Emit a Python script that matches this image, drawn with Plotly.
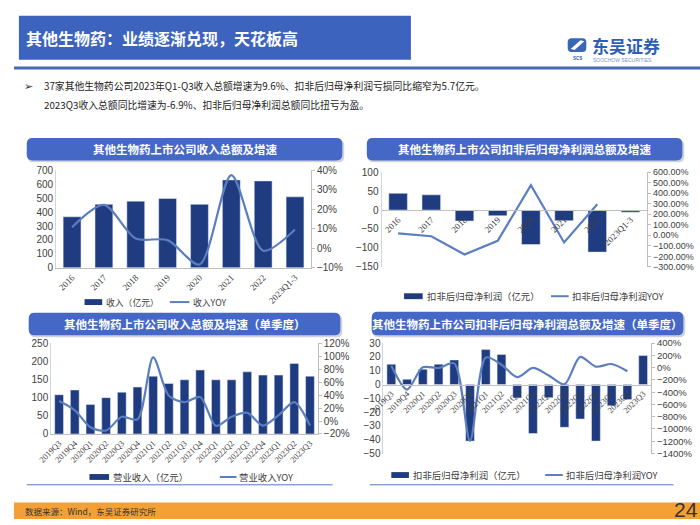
import plotly.graph_objects as go

W, H = 700, 525


def X(p):
    return p / W


def Y(p):
    return 1 - p / H


# ---------------- data ----------------
annual_cats = ["2016", "2017", "2018", "2019", "2020", "2021", "2022", "2023Q1-3"]
annual_revenue = [366, 455, 478, 497, 455, 630, 623, 509]
annual_revenue_yoy = [10.8, 22.2, 5.0, 4.2, -8.3, 37.5, -1.2, 9.6]
annual_profit = [44, 40, -29, -15, -91, -28, -111, -5.7]
annual_profit_yoy = [18.6, -9, -183, -53, 475, -68, 295, None]

quarter_cats = ["2019Q3", "2019Q4", "2020Q1", "2020Q2", "2020Q3", "2020Q4",
                "2021Q1", "2021Q2", "2021Q3", "2021Q4", "2022Q1", "2022Q2",
                "2022Q3", "2022Q4", "2023Q1", "2023Q2", "2023Q3"]
quarter_revenue = [108, 121, 81, 100, 115, 129, 159, 139, 149, 176, 149, 149,
                   171, 162, 162, 194, 159]
quarter_revenue_yoy = [30.7, 16.6, -9.6, -14.6, 6.5, 2.5, 98, 39, 29, 37, -7.5,
                       6.5, 12.6, -7, 9, 29, -6.9]
quarter_profit = [14.7, 3.8, 11.1, 14.7, 17.8, -41, 25.3, 21.8, -9.7, -35.5,
                  -9.5, -31, -25, -41, -15.4, -10.9, 21]
quarter_profit_yoy = [32, -357, 5, -5, 69, -1193, 165, 48, -154, -5, -128,
                      -272, 176, 16, 59, -59, None]

title_text = "其他生物药：业绩逐渐兑现，天花板高"
bullet_lines = [
    "37家其他生物药公司2023年Q1-Q3收入总额增速为9.6%、扣非后归母净利润亏损同比缩窄为5.7亿元。",
    "2023Q3收入总额同比增速为-6.9%、扣非后归母净利润总额同比扭亏为盈。",
]
panel_titles = [
    "其他生物药上市公司收入总额及增速",
    "其他生物药上市公司扣非后归母净利润总额及增速",
    "其他生物药上市公司收入总额及增速（单季度）",
    "其他生物药上市公司扣非后归母净利润总额及增速（单季度）",
]
legend_names = [
    ("收入（亿元）", "收入YOY"),
    ("扣非后归母净利润（亿元）", "扣非后归母净利润YOY"),
    ("营业收入（亿元）", "营业收入YOY"),
    ("扣非后归母净利润（亿元）", "扣非后归母净利润YOY"),
]
source_text = "数据来源：Wind，东吴证券研究所"
page_no = "24"

# ---------------- styles ----------------
BAR = "#203C80"
LINE = "#5B7EC0"
AX = "#BFBFBF"
TXT = "#404040"
SANS = "Noto Sans CJK SC"
SERIF = "Liberation Serif"

fig = go.Figure()

panels = [
    (annual_cats, annual_revenue, annual_revenue_yoy, "x", "y", "y2", "spline"),
    (annual_cats, annual_profit, annual_profit_yoy, "x2", "y3", "y4", "linear"),
    (quarter_cats, quarter_revenue, quarter_revenue_yoy, "x3", "y5", "y6", "spline"),
    (quarter_cats, quarter_profit, quarter_profit_yoy, "x4", "y7", "y8", "spline"),
]
for i, (cats, bars, yoy, xa, ya, yb, shp) in enumerate(panels):
    fig.add_trace(go.Bar(x=cats, y=bars, name=legend_names[i][0], marker_color=BAR,
                         xaxis=xa, yaxis=ya, showlegend=False))
    fig.add_trace(go.Scatter(x=cats, y=yoy, name=legend_names[i][1], mode="lines",
                             line=dict(color=LINE, width=2.2, shape=shp, smoothing=0.8),
                             connectgaps=False, xaxis=xa, yaxis=yb, showlegend=False))

# plot-area pixel boxes: (left, right, top, bottom)
boxes = [(43, 303, 168, 268), (375, 646, 170, 267), (38, 310, 345, 438), (377, 650, 345, 458)]
left_ranges = [[0, 700], [-150, 100], [0, 250], [-50, 30]]
left_dticks = [100, 50, 50, 10]
right_ranges = [[-10, 40], [-300, 600], [-20, 120], [-1400, 400]]
right_dticks = [10, 100, 20, 200]
right_formats = ["d", ".2f", "d", "d"]
right_sizes = [10, 9, 10, 9.5]

lay = {}
for i in range(4):
    l, r, t, b = boxes[i]
    xd = [X(l), X(r)]
    yd = [Y(b), Y(t)]
    xn = "xaxis" if i == 0 else f"xaxis{i + 1}"
    yn1 = "yaxis" if i == 0 else f"yaxis{2 * i + 1}"
    yn2 = f"yaxis{2 * i + 2}"
    xref = "x" if i == 0 else f"x{i + 1}"
    y1ref = "y" if i == 0 else f"y{2 * i + 1}"
    lo, hi = left_ranges[i]
    xax = dict(domain=xd, type="category", showline=True, linecolor=AX, linewidth=1,
               ticks="", tickangle=-45, showgrid=False, zeroline=False,
               tickfont=dict(family=SERIF, size=9 if i < 2 else 8.5, color=TXT))
    if lo < 0:
        frac = (0 - lo) / (hi - lo)
        xax.update(anchor="free", position=yd[0] + frac * (yd[1] - yd[0]))
    else:
        xax.update(anchor=y1ref)
    lay[xn] = xax
    lay[yn1] = dict(domain=yd, anchor=xref, range=left_ranges[i], dtick=left_dticks[i],
                    showgrid=False, zeroline=False, showline=True, linecolor="#D5D5D5",
                    ticks="", tickfont=dict(family="Liberation Sans", size=10, color=TXT))
    lay[yn2] = dict(overlaying=y1ref, anchor=xref, side="right", range=right_ranges[i],
                    dtick=right_dticks[i], tickformat=right_formats[i], ticksuffix="%",
                    showgrid=False, zeroline=False, showline=True, linecolor=AX,
                    ticks="outside", ticklen=3, tickcolor=AX,
                    tickfont=dict(family="Liberation Sans", size=right_sizes[i], color=TXT))


def rrect(x0, y0, x1, y1, r):
    return (f"M {X(x0 + r)},{Y(y0)} L {X(x1 - r)},{Y(y0)} Q {X(x1)},{Y(y0)} {X(x1)},{Y(y0 + r)} "
            f"L {X(x1)},{Y(y1 - r)} Q {X(x1)},{Y(y1)} {X(x1 - r)},{Y(y1)} "
            f"L {X(x0 + r)},{Y(y1)} Q {X(x0)},{Y(y1)} {X(x0)},{Y(y1 - r)} "
            f"L {X(x0)},{Y(y0 + r)} Q {X(x0)},{Y(y0)} {X(x0 + r)},{Y(y0)} Z")


shapes = []
anns = []

shapes.append(dict(type="rect", xref="paper", yref="paper", x0=X(5), x1=X(405), y0=Y(55), y1=Y(10),
                   fillcolor="#3C63BE", line_width=0, layer="below"))
shapes.append(dict(type="line", xref="paper", yref="paper", x0=0, x1=1, y0=Y(63.5), y1=Y(63.5),
                   line=dict(color="#4A69B0", width=3)))
# logo icon
shapes.append(dict(type="path", xref="paper", yref="paper",
                   path=rrect(565, 33, 584, 47, 4), fillcolor="#3A66B8", line_width=0))
shapes.append(dict(type="path", xref="paper", yref="paper",
                   path=f"M {X(568)},{Y(44)} L {X(578)},{Y(35)} L {X(582)},{Y(36)} L {X(572)},{Y(45)} Z",
                   fillcolor="white", line_width=0))
header_boxes = [(13, 135, 335, 158), (360, 135, 682, 158), (15, 314, 333, 337), (365, 313, 683, 337)]
for (x0, y0, x1, y1) in header_boxes:
    shapes.append(dict(type="path", xref="paper", yref="paper", path=rrect(x0 + 1, y0 + 2, x1 + 2, y1 + 2, 6),
                       fillcolor="rgba(120,130,150,0.35)", line_width=0, layer="below"))
    shapes.append(dict(type="path", xref="paper", yref="paper", path=rrect(x0, y0, x1, y1, 6),
                       fillcolor="#4568C6", line_width=0, layer="below"))
for (x0, x1) in [(13, 325), (363, 673)]:
    shapes.append(dict(type="line", xref="paper", yref="paper", x0=X(x0), x1=X(x1), y0=Y(490), y1=Y(490),
                       line=dict(color="#5A78B8", width=1)))
shapes.append(dict(type="rect", xref="paper", yref="paper", x0=0, x1=1, y0=0, y1=Y(508),
                   fillcolor="#F4A035", line_width=0, layer="below"))

# legends (drawn as keys + text): (y, bar key x0, x1, bar text x, line key x0, x1, line text x, size)
legend_layout = [
    (303, 72, 90, 92, 159, 179, 181, 8.8),
    (297, 398, 417, 419, 548, 566, 567, 9.4),
    (482, 77, 97, 99, 210, 227, 228, 9.4),
    (480, 385, 403, 405, 542, 560, 561, 9.4),
]
for i, (ly, bx0, bx1, btx, lx0, lx1, ltx, fs) in enumerate(legend_layout):
    shapes.append(dict(type="rect", xref="paper", yref="paper", x0=X(bx0), x1=X(bx1),
                       y0=Y(ly + 3), y1=Y(ly - 3), fillcolor=BAR, line_width=0))
    shapes.append(dict(type="line", xref="paper", yref="paper", x0=X(lx0), x1=X(lx1),
                       y0=Y(ly), y1=Y(ly), line=dict(color=LINE, width=2)))
    anns.append(dict(text=legend_names[i][0], x=X(btx), y=Y(ly), xref="paper", yref="paper",
                     xanchor="left", yanchor="middle", showarrow=False,
                     font=dict(family=SANS, size=fs, color=TXT)))
    anns.append(dict(text=legend_names[i][1], x=X(ltx), y=Y(ly), xref="paper", yref="paper",
                     xanchor="left", yanchor="middle", showarrow=False,
                     font=dict(family=SANS, size=fs, color=TXT)))

anns.append(dict(text=f"<b>{title_text}</b>", x=X(10), y=Y(33), xref="paper", yref="paper",
                 xanchor="left", yanchor="middle", showarrow=False,
                 font=dict(family=SANS, size=16, color="white")))
anns.append(dict(text="<b>东吴证券</b>", x=X(588), y=Y(40.5), xref="paper", yref="paper",
                 xanchor="left", yanchor="middle", showarrow=False,
                 font=dict(family=SANS, size=17, color="#2F5FB3")))
anns.append(dict(text="SOOCHOW SECURITIES", x=X(589), y=Y(55.5), xref="paper", yref="paper",
                 xanchor="left", yanchor="middle", showarrow=False,
                 font=dict(family="Liberation Sans", size=5, color="#7A93C8")))
anns.append(dict(text="<b>SCS</b>", x=X(574.5), y=Y(54), xref="paper", yref="paper",
                 xanchor="center", yanchor="middle", showarrow=False,
                 font=dict(family="Liberation Sans", size=4.5, color="#2F5FB3")))
anns.append(dict(text="➢", x=X(8), y=Y(82), xref="paper", yref="paper",
                 xanchor="left", yanchor="middle", showarrow=False,
                 font=dict(family="DejaVu Sans", size=11, color="#333333")))
for k, ln in enumerate(bullet_lines):
    anns.append(dict(text=ln, x=X(29), y=Y(82 + 19.5 * k), xref="paper", yref="paper",
                     xanchor="left", yanchor="middle", showarrow=False,
                     font=dict(family=SANS, size=9.8, color="#222222")))
for (x0, y0, x1, y1), t in zip(header_boxes, panel_titles):
    anns.append(dict(text=f"<b>{t}</b>", x=X((x0 + x1) / 2), y=Y((y0 + y1) / 2), xref="paper", yref="paper",
                     xanchor="center", yanchor="middle", showarrow=False,
                     font=dict(family=SANS, size=11.5, color="white")))
anns.append(dict(text=source_text, x=X(9), y=Y(517), xref="paper", yref="paper",
                 xanchor="left", yanchor="middle", showarrow=False,
                 font=dict(family=SANS, size=8.5, color="#333333")))
anns.append(dict(text=page_no, x=X(686), y=Y(515), xref="paper", yref="paper",
                 xanchor="center", yanchor="middle", showarrow=False,
                 font=dict(family="Liberation Sans Narrow, Liberation Sans", size=21, color="#333333")))

fig.update_layout(
    width=W, height=H, autosize=False,
    margin=dict(l=0, r=0, t=0, b=0, pad=0),
    paper_bgcolor="white", plot_bgcolor="rgba(0,0,0,0)",
    barmode="group", bargap=0.44, showlegend=False,
    shapes=shapes, annotations=anns,
    font=dict(family=SANS, color=TXT),
    **lay,
)

fig.write_html("out.html",
               config={"displayModeBar": False},
               post_script="document.body.style.margin='0px';document.body.style.padding='0px';"
                           "document.body.style.overflow='hidden';")
